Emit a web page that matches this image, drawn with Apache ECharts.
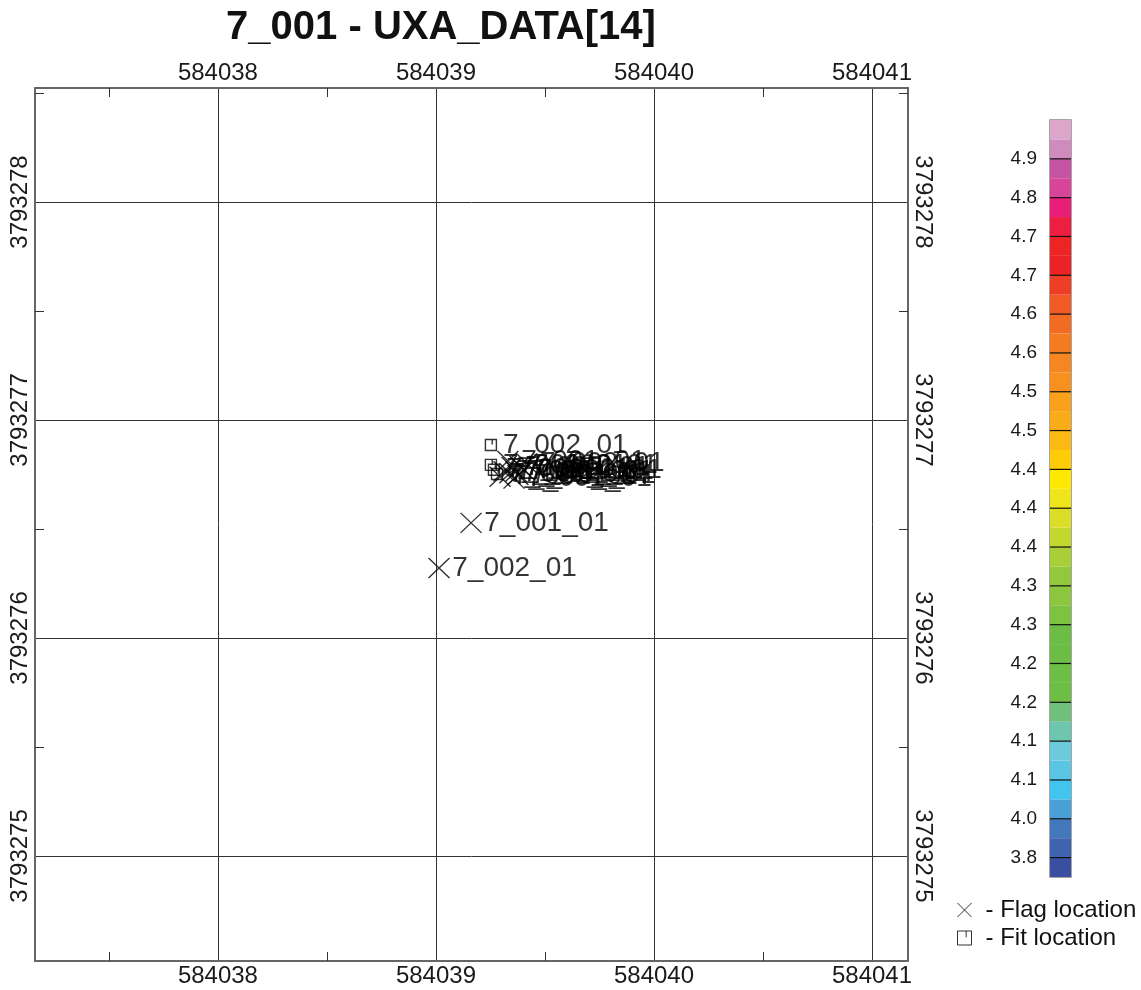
<!DOCTYPE html>
<html>
<head>
<meta charset="utf-8">
<script src="https://cdn.jsdelivr.net/npm/echarts@6/dist/echarts.min.js"></script>
<style>
  html, body { margin: 0; padding: 0; background: #fff; }
  #chart { width: 1141px; height: 990px; }
</style>
</head>
<body>
<div id="chart"></div>
<script>
// Map title and extent (easting / northing, metres)
const chartTitle = '7_001 - UXA_DATA[14]';
const eastRange = [584037.161, 584041.165];
const northRange = [3793274.518, 3793278.523];

// Flag locations (× markers)
const flagNames = ['7_001_01', '7_002_01', '7_001_01', '7_002_01', '7_001_01', '7_002_01', '7_001_01',
  '7_002_01', '7_001_01', '7_002_01', '7_001_01', '7_002_01', '7_001_01'];
const flagEast  = [584039.161, 584039.014, 584039.330, 584039.349, 584039.367, 584039.385, 584039.404,
  584039.417, 584039.376, 584039.339, 584039.312, 584039.294, 584039.358];
const flagNorth = [3793276.528, 3793276.321, 3793276.812, 3793276.784, 3793276.764, 3793276.790, 3793276.770,
  3793276.800, 3793276.748, 3793276.756, 3793276.765, 3793276.740, 3793276.731];

// Fit locations (square markers)
const fitNames = ['7_002_01', '7_001_01', '7_002_01', '7_001_01'];
const fitEast  = [584039.252, 584039.252, 584039.266, 584039.280];
const fitNorth = [3793276.885, 3793276.794, 3793276.772, 3793276.752];

// Colour scale: bands listed bottom to top
const colorBands = [
  '#3a4f9f', '#3f63ae', '#4379bc', '#48a0d6', '#41c4ee', '#5bc5e4', '#6ccbdb', '#6fc6ae',
  '#71bf7c', '#6dbe45', '#6dbe45', '#6cbd45', '#6cbd45', '#7ec242', '#8cc63f', '#93c83d',
  '#a9cf38', '#c4d72e', '#dbdd27', '#efe51b', '#ffe800', '#ffcd05', '#fdb913', '#faab18',
  '#f9a11b', '#f7901e', '#f6861f', '#f47b20', '#f26b22', '#f15a24', '#ef3e26', '#ec2227',
  '#ee2324', '#ed1e3f', '#e91e79', '#d8449a', '#c653a1', '#cf8bbe', '#dba6c9'
];
// Labels at every second band boundary, starting at boundary 1 (bottom to top)
const colorTickLabels = ['3.8', '4.0', '4.1', '4.1', '4.2', '4.2', '4.3', '4.3', '4.4', '4.4',
  '4.4', '4.5', '4.5', '4.6', '4.6', '4.7', '4.7', '4.8', '4.9'];

const FONT = '"Liberation Sans", Arial, sans-serif';
const flagSymbol = 'path://M0,0 L10,10 M10,0 L0,10';
const fitSymbol = 'path://M0,0 L10,0 L10,10 L0,10 Z M6.2,0 L6.2,4.5';

const flagData = flagNames.map((n, i) => [flagEast[i], flagNorth[i], n]);
const fitData = fitNames.map((n, i) => [fitEast[i], fitNorth[i], n]);
const bandData = colorBands.map((c, i) => [i, c]);

const intLabel = v => (Math.abs(v - Math.round(v)) < 1e-6 ? String(Math.round(v)) : '');

function mapAxis(pos, extent, isX) {
  const ax = {
    type: 'value',
    gridIndex: 0,
    position: pos,
    min: extent[0],
    max: extent[1],
    splitNumber: 4,
    axisLine: { show: true, lineStyle: { color: '#666', width: 2 } },
    axisTick: { show: false, inside: true },
    minorTick: { show: true, splitNumber: 2, length: 9, lineStyle: { color: '#333', width: 1 } },
    splitLine: { show: pos === 'top' || pos === 'left', lineStyle: { color: '#333', width: 1 } },
    axisLabel: {
      show: true,
      showMinLabel: false,
      showMaxLabel: false,
      fontFamily: FONT,
      fontSize: 24,
      color: '#1a1a1a',
      margin: 3,
      formatter: intLabel
    }
  };
  if (!isX) {
    ax.axisLabel.rotate = pos === 'left' ? 90 : -90;
  }
  return ax;
}

const labelStyle = {
  show: true,
  position: 'right',
  fontFamily: FONT,
  fontSize: 28,
  color: '#000',
  formatter: p => p.data[2]
};

const chart = echarts.init(document.getElementById('chart'), null, { renderer: 'canvas' });

chart.setOption({
  backgroundColor: '#fff',
  animation: false,
  title: {
    text: chartTitle,
    left: 436,
    top: 3,
    textAlign: 'center',
    textStyle: { fontFamily: FONT, fontSize: 40, fontWeight: 'bold', color: '#111' }
  },
  legend: {
    orient: 'vertical',
    left: 952,
    top: 893,
    itemWidth: 14,
    itemHeight: 14,
    itemGap: 4,
    textStyle: { fontFamily: FONT, fontSize: 24, color: '#111', padding: [0, 0, 0, 9] },
    data: [
      { name: '- Flag location', icon: flagSymbol, itemStyle: { color: 'rgba(0,0,0,0)', borderColor: '#000', borderWidth: 1 } },
      { name: '- Fit location', icon: fitSymbol, itemStyle: { color: 'rgba(0,0,0,0)', borderColor: '#000', borderWidth: 1 } }
    ]
  },
  grid: [
    { left: 35, top: 88, width: 873, height: 873, containLabel: false },
    { left: 1050, top: 120, width: 21, height: 757, show: true, borderColor: '#888', borderWidth: 1.5, containLabel: false }
  ],
  xAxis: [
    mapAxis('top', eastRange, true),
    mapAxis('bottom', eastRange, true),
    { type: 'value', gridIndex: 1, min: 0, max: 1, show: false }
  ],
  yAxis: [
    mapAxis('left', northRange, false),
    mapAxis('right', northRange, false),
    {
      type: 'value',
      gridIndex: 1,
      min: 0,
      max: colorBands.length,
      interval: 1,
      axisLine: { show: false },
      axisTick: { show: false },
      splitLine: { show: false },
      axisLabel: {
        fontFamily: FONT,
        fontSize: 19,
        color: '#1a1a1a',
        margin: 13,
        formatter: v => (v % 2 === 1 ? colorTickLabels[(v - 1) / 2] || '' : '')
      }
    }
  ],
  series: [
    {
      name: '- Flag location',
      type: 'scatter',
      xAxisIndex: 0,
      yAxisIndex: 0,
      symbol: flagSymbol,
      symbolSize: [21, 20],
      itemStyle: { color: 'rgba(0,0,0,0)', borderColor: '#000', borderWidth: 1.4 },
      label: Object.assign({ distance: 2 }, labelStyle),
      labelLayout: { hideOverlap: false },
      data: flagData
    },
    {
      name: '- Fit location',
      type: 'scatter',
      xAxisIndex: 0,
      yAxisIndex: 0,
      symbol: fitSymbol,
      symbolSize: [11, 11],
      itemStyle: { color: 'rgba(0,0,0,0)', borderColor: '#000', borderWidth: 1.4 },
      label: Object.assign({ distance: 6 }, labelStyle),
      labelLayout: { hideOverlap: false },
      data: fitData
    },
    {
      type: 'custom',
      xAxisIndex: 2,
      yAxisIndex: 2,
      silent: true,
      renderItem: (params, api) => {
        const i = api.value(0);
        const p0 = api.coord([0, i]);
        const p1 = api.coord([1, i + 1]);
        const children = [{
          type: 'rect',
          shape: { x: p0[0], y: p1[1], width: p1[0] - p0[0], height: p0[1] - p1[1] },
          style: { fill: api.value(1) }
        }];
        if (i % 2 === 1) {
          children.push({
            type: 'line',
            shape: { x1: p0[0], y1: p0[1], x2: p1[0], y2: p0[1] },
            style: { stroke: '#111', lineWidth: 1.2 }
          });
        }
        return { type: 'group', children };
      },
      encode: { x: -1, y: 0 },
      data: bandData
    }
  ]
});
</script>
</body>
</html>
